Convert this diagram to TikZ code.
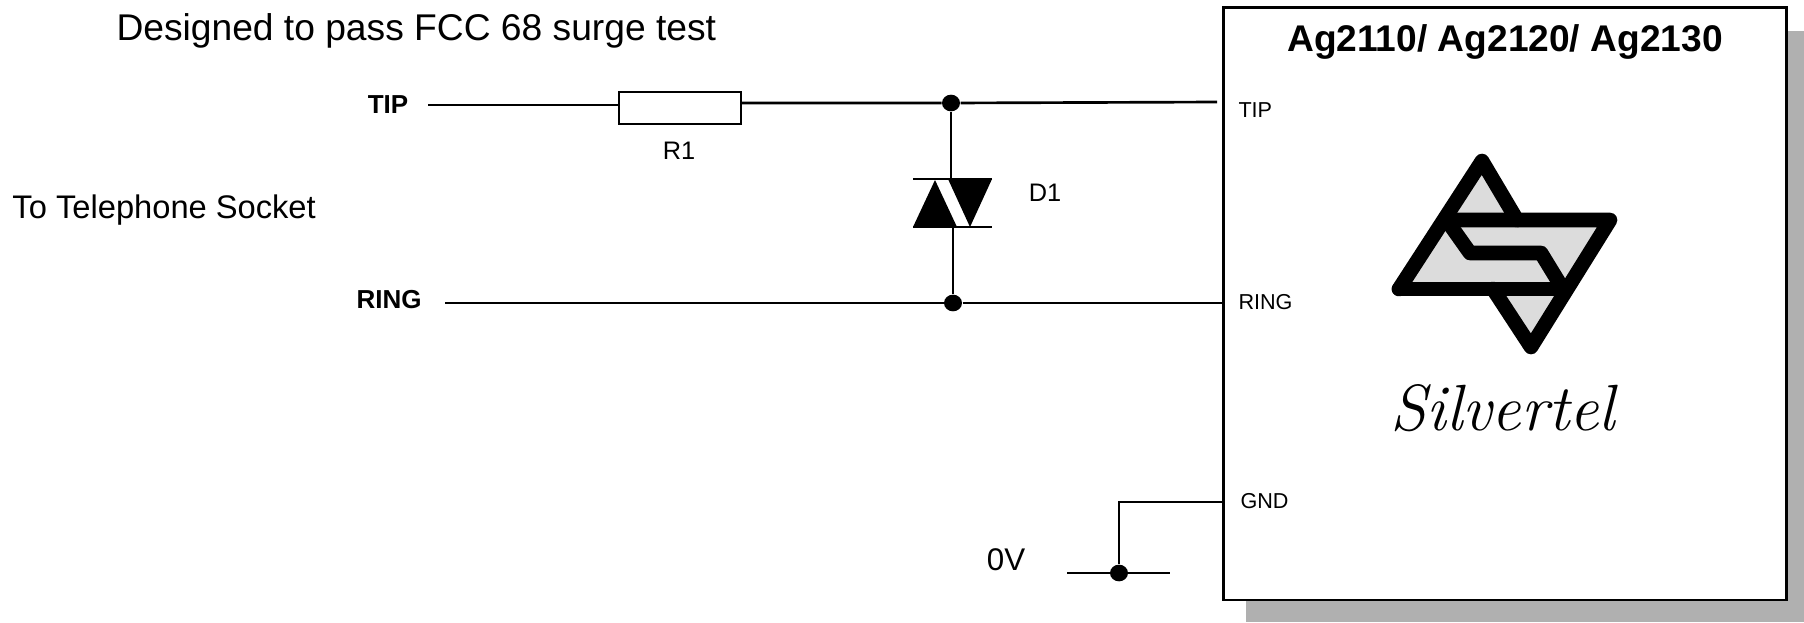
\documentclass[tikz,border=0pt]{standalone}
\usepackage{fontspec}
\usetikzlibrary{shapes.geometric}
\setmainfont{Liberation Sans}
\newfontfamily\logofont{Latin Modern Roman}
\tikzset{every picture/.style={line width=0.75pt}}
\tikzset{
  wire/.style={line width=2pt},
  thinwire/.style={line width=1.5pt},
  joint/.style={ellipse,fill=black,draw=none,inner sep=0pt,minimum width=13.5pt,minimum height=12.5pt},
  pinlabel/.style={anchor=west,inner sep=0pt,font=\fontsize{16.2}{19}\selectfont},
  partlabel/.style={inner sep=0pt,font=\fontsize{19}{23}\selectfont},
  sidelabel/.style={inner sep=0pt,font=\bfseries\fontsize{19.5}{23}\selectfont},
  bigtext/.style={inner sep=0pt,font=\fontsize{24.5}{29}\selectfont},
  logoline/.style={line width=11pt,line join=round,line cap=round}
}
\begin{document}
\begin{tikzpicture}[x=0.75pt,y=0.75pt,yscale=-1,xscale=1]
\useasboundingbox (0,0) rectangle (1804,622);

%Shape: Shadow
\fill [color={rgb, 255:red, 176; green, 176; blue, 176 }] (1246,31) rectangle (1804,622);
%Shape: Rectangle
\node (chipbox) [draw,fill=white,line width=2pt,minimum width=422pt,minimum height=444.5pt,inner sep=0pt] at (1505,303.5) {};
%Shape: Resistor
\node (rone) [draw,line width=1.6pt,minimum width=91.5pt,minimum height=24.5pt,inner sep=0pt] at (680,108) {};

%Points
\coordinate (tipstart) at (428,105);
\coordinate (tipend) at (1217,102);
\coordinate (ringstart) at (445,303);
\coordinate (gndcorner) at (1119,502);
\coordinate (barleft) at (1067,573);
\coordinate (barright) at (1170,573);
\coordinate (gndpin) at (chipbox.west |- gndcorner);
\coordinate (ringpin) at (chipbox.west |- ringstart);
\coordinate (dtop) at (951,179);
\coordinate (dbot) at (953,227);
\node (jtip) [joint] at (951,103) {};
\node (jring) [joint] at (953,303) {};
\node (jgnd) [joint] at (1119,573) {};

%Straight Lines
\draw [thinwire] (tipstart) -- (tipstart -| rone.west);
\draw [wire] (rone.east |- jtip) -- (jtip) -- (tipend);
\draw [wire] (ringstart) -- (jring) -- (ringpin);
\draw [wire] (jtip) -- (dtop);
\draw [wire] (dbot) -- (jring);
\draw [thinwire] (gndpin) -- (gndcorner) -- (jgnd);
\draw [wire] (barleft) -- (barright);

%Shape: Diode
\fill (913,227) -- (935,180) -- (957,227) -- cycle;
\fill (948,179) -- (992,179) -- (970,227) -- cycle;
\draw [wire] (913,179) -- (992,179);
\draw [wire] (913,227) -- (992,227);

%Shape: Logo
\fill [color={rgb, 255:red, 220; green, 220; blue, 220 }] (1482,161) -- (1517,220) -- (1610,220) -- (1531,347) -- (1493,289) -- (1399,289) -- cycle;
\draw [logoline] (1399,289) -- (1482,161) -- (1517,220);
\draw [logoline] (1448,220) -- (1610,220) -- (1531,347) -- (1493,289);
\draw [logoline] (1399,289) -- (1563,289);
\draw [logoline,line cap=butt] (1448,222) -- (1470,253) -- (1541,253) -- (1563,289);

% Text Node
\node (tiplabel) [sidelabel] at (388,105) {TIP};
% Text Node
\node (ringlabel) [sidelabel] at (389,300) {RING};
% Text Node
\node (ronelabel) [partlabel] at (679,151) {R1};
% Text Node
\node (donelabel) [partlabel] at (1045,193) {D1};
% Text Node
\node (socketlabel) [bigtext,anchor=west] at (12,210) {To Telephone Socket};
% Text Node
\node (zerolabel) [bigtext,font=\fontsize{23.5}{28}\selectfont] at (1006,560) {0V};
% Text Node
\node (surgelabel) [bigtext,anchor=west,font=\fontsize{27.9}{33}\selectfont] at (116,31) {Designed to pass FCC 68 surge test};
% Text Node
\node (chiptitle) [inner sep=0pt,font=\bfseries\fontsize{27.85}{33}\selectfont] at (1505,42) {Ag2110/ Ag2120/ Ag2130};
% Text Node
\node (tippin) [pinlabel] at (1238,110) {TIP};
% Text Node
\node (ringpinlabel) [pinlabel] at (1238,302) {RING};
% Text Node
\node (gndpinlabel) [pinlabel] at (1240,501) {GND};
% Text Node
\node (logotext) [inner sep=0pt,font=\logofont\itshape\fontsize{49}{56}\selectfont] at (1503,408) {Silvertel};

\end{tikzpicture}
\end{document}
